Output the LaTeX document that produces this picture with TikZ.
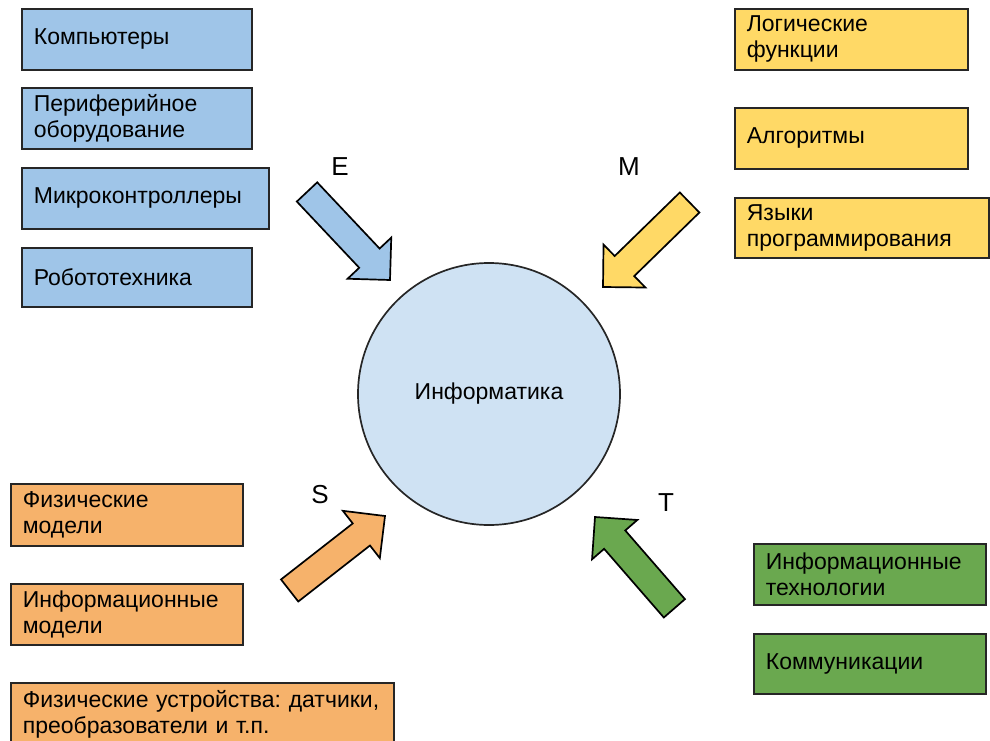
\documentclass[tikz,border=0pt]{standalone}
\usepackage{fontspec}
\setmainfont{Liberation Sans}
\usetikzlibrary{positioning}
\frenchspacing

\definecolor{eblue}{HTML}{9FC5E8}
\definecolor{myellow}{HTML}{FFD966}
\definecolor{sorange}{HTML}{F6B26B}
\definecolor{tgreen}{HTML}{6AA84F}
\definecolor{core}{HTML}{CFE2F3}

\tikzset{
  blockarrow/.pic={
    \draw[line width=1.7pt, line join=miter, pic actions]
      (-121,-14) -- (-30,-14) -- (-30,-30) -- (0,0) -- (-30,30) -- (-30,14) -- (-121,14) -- cycle;
  }
}

\begin{document}
\begin{tikzpicture}[x=1pt, y=-1pt, font=\fontsize{23}{26}\selectfont,
  topic/.style={draw=black!85, line width=1.7pt, anchor=north west, align=left,
    inner xsep=12pt, inner ysep=0pt, minimum height=61pt},
  letter/.style={font=\fontsize{26}{26}\selectfont}]
  \clip (0,0) rectangle (990,741);

  \node[topic, fill=eblue, text width=206pt] (comp) at (21,8) {Компьютеры};
  \node[topic, fill=eblue, text width=206pt] (periph) at (21,87) {Периферийное\\оборудование};
  \node[topic, fill=eblue, text width=223pt] (micro) at (21,167) {Микроконтроллеры};
  \node[topic, fill=eblue, text width=206pt, minimum height=59pt] (robot) at (21,247) {Робототехника};

  \node[topic, fill=myellow, text width=209pt] (logic) at (734,8) {Логические\\функции};
  \node[topic, fill=myellow, text width=209pt] (algo) at (734,107) {Алгоритмы};
  \node[topic, fill=myellow, text width=230pt, minimum height=60pt] (lang) at (734,197) {Языки\\программирования};

  \node[topic, fill=sorange, text width=208pt, minimum height=62pt] (physmod) at (10,483) {Физические\\модели};
  \node[topic, fill=sorange, text width=208pt] (infmod) at (10,583) {Информационные\\модели};
  \node[topic, fill=sorange, text width=359pt, minimum height=62pt] (devices) at (10,682) {Физические устройства: датчики,\\преобразователи и т.п.};

  \node[topic, fill=tgreen, text width=208pt] (infotech) at (753,543) {Информационные\\технологии};
  \node[topic, fill=tgreen, text width=208pt, minimum height=60pt] (comm) at (753,633) {Коммуникации};

  \node[draw=black!85, circle, fill=core, line width=1.7pt, minimum size=262pt, inner sep=0pt] (inf) at (489,394) {Информатика};

  \pic[fill=eblue, rotate=-46.7] (arrE) at (390,280) {blockarrow};
  \pic[fill=myellow, rotate=-135.7] (arrM) at (603,287) {blockarrow};
  \pic[fill=sorange, rotate=38] (arrS) at (385,516) {blockarrow};
  \pic[fill=tgreen, rotate=131] (arrT) at (595,517) {blockarrow};

  \node[letter] (labE) at (340,167) {E};
  \node[letter] (labM) at (629,167) {M};
  \node[letter] (labS) at (320,495) {S};
  \node[letter] (labT) at (666,503) {T};
\end{tikzpicture}
\end{document}
